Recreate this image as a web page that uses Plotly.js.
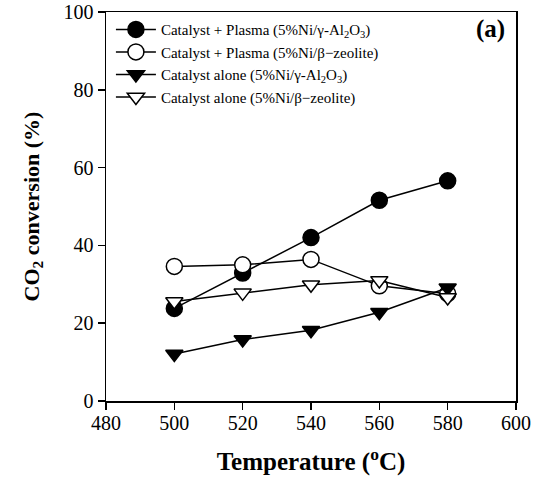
<!DOCTYPE html>
<html>
<head>
<meta charset="utf-8">
<script src="https://cdn.plot.ly/plotly-3.0.1.min.js"></script>
<style>html,body{margin:0;padding:0;background:#fff;}#chart{width:539px;height:488px;}</style>
</head>
<body>
<div id="chart"></div>
<script>
var temperature = [500, 520, 540, 560, 580];
var plasmaAl2O3 = [23.8, 32.9, 42.0, 51.6, 56.6];
var plasmaZeolite = [34.6, 35.0, 36.4, 29.6, 27.6];
var aloneAl2O3 = [12.1, 15.8, 18.2, 22.8, 29.1];
var aloneZeolite = [25.6, 27.8, 29.9, 31.0, 26.6];
var seriesNames = [
  'Catalyst + Plasma (5%Ni/γ-Al<sub>2</sub>O<sub>3</sub>)',
  'Catalyst + Plasma (5%Ni/β−zeolite)',
  'Catalyst alone (5%Ni/γ-Al<sub>2</sub>O<sub>3</sub>)',
  'Catalyst alone (5%Ni/β−zeolite)'
];
var xTicks = [480, 500, 520, 540, 560, 580, 600];
var yTicks = [0, 20, 40, 60, 80, 100];

var serif = 'Liberation Serif, Times New Roman, serif';
function tr(y, name, symbol, fill) {
  return {
    x: temperature, y: y, name: name, type: 'scatter', mode: 'lines+markers',
    line: {color: '#000', width: 1.5},
    marker: {symbol: symbol, size: symbol === 'circle' ? 16 : 15, color: fill,
             line: {color: '#000', width: 1.5}},
    cliponaxis: false
  };
}
var data = [
  tr(plasmaAl2O3, seriesNames[0], 'circle', '#000'),
  tr(plasmaZeolite, seriesNames[1], 'circle', '#fff'),
  tr(aloneAl2O3, seriesNames[2], 'triangle-down', '#000'),
  tr(aloneZeolite, seriesNames[3], 'triangle-down', '#fff')
];
var layout = {
  width: 539, height: 488,
  margin: {l: 106, r: 23, t: 12, b: 87},
  paper_bgcolor: '#fff', plot_bgcolor: '#fff',
  font: {family: serif, color: '#000'},
  showlegend: true,
  legend: {x: 0.012, y: 0.997, xanchor: 'left', yanchor: 'top', bgcolor: 'rgba(0,0,0,0)',
           font: {family: serif, size: 15, color: '#000'}, tracegroupgap: 0, itemwidth: 40},
  xaxis: {
    range: [480, 600], tickvals: xTicks, ticktext: xTicks.map(String),
    showgrid: false, zeroline: false, showline: true, mirror: true,
    linecolor: '#000', linewidth: 1.5, ticks: 'outside', ticklen: 7, tickwidth: 1.5, tickcolor: '#000',
    ticklabelstandoff: -4,
    tickfont: {family: serif, size: 20, color: '#000'},
    title: {text: 'Temperature (<sup>o</sup>C)', font: {family: serif, size: 25, color: '#000', weight: 'bold'}, standoff: 20}
  },
  yaxis: {
    range: [0, 100], tickvals: yTicks, ticktext: yTicks.map(String),
    showgrid: false, zeroline: false, showline: true, mirror: true,
    linecolor: '#000', linewidth: 1.5, ticks: 'outside', ticklen: 7, tickwidth: 1.5, tickcolor: '#000',
    tickfont: {family: serif, size: 20, color: '#000'},
    title: {text: 'CO<sub>2</sub> conversion (%)', font: {family: serif, size: 22, color: '#000', weight: 'bold'}, standoff: 18}
  },
  annotations: [{
    xref: 'paper', yref: 'paper', x: 0.978, y: 0.998, xanchor: 'right', yanchor: 'top',
    text: '<b>(a)</b>', showarrow: false, font: {family: serif, size: 25, color: '#000'}
  }]
};
Plotly.newPlot('chart', data, layout, {displayModeBar: false, staticPlot: true});
</script>
</body>
</html>
